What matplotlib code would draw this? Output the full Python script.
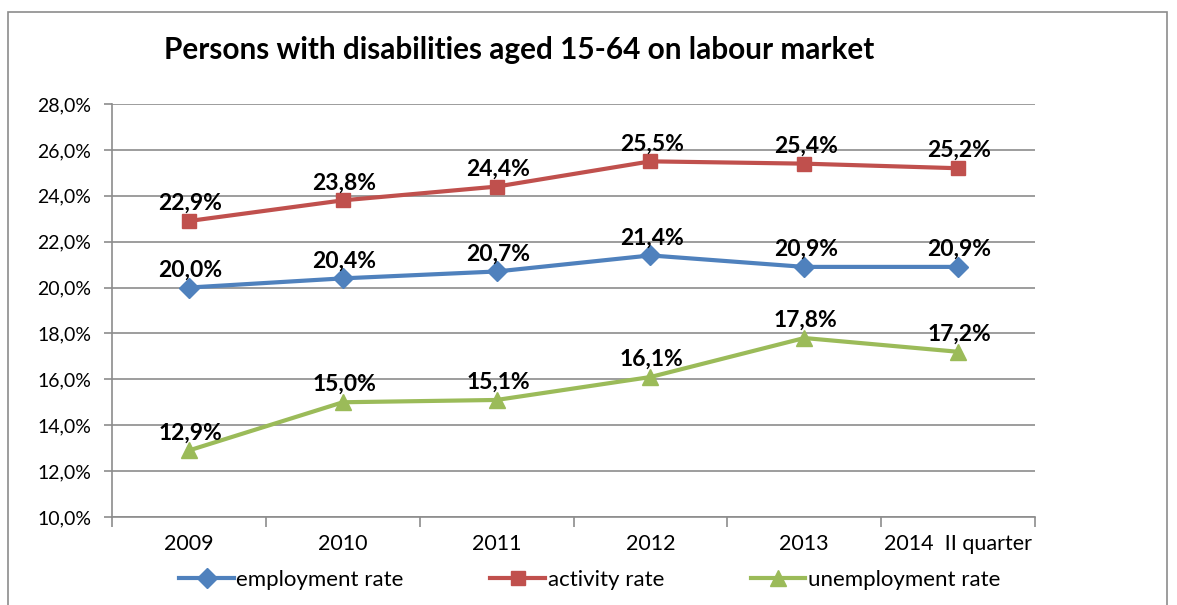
import matplotlib
matplotlib.use('Agg')
import matplotlib.pyplot as plt
from matplotlib.patches import Rectangle
from matplotlib.ticker import FuncFormatter
import numpy as np

matplotlib.rcParams['font.family'] = ['Lato', 'DejaVu Sans']

# ── data ──────────────────────────────────────────────────────────────────────
years = ['2009', '2010', '2011', '2012', '2013', '2014  II quarter']
employment = [20.0, 20.4, 20.7, 21.4, 20.9, 20.9]
activity = [22.9, 23.8, 24.4, 25.5, 25.4, 25.2]
unemployment = [12.9, 15.0, 15.1, 16.1, 17.8, 17.2]

series = [
    ('employment rate', employment, '#4F81BD', 'D', 10),
    ('activity rate', activity, '#C0504D', 's', 10),
    ('unemployment rate', unemployment, '#9BBB59', '^', 12),
]

fig = plt.figure(figsize=(11.77, 6.05), dpi=100)
ax = fig.add_axes([0.0952, 0.1455, 0.7842, 0.6826])

x = np.arange(len(years))
for name, vals, col, mk, ms in series:
    ax.plot(x, vals, color=col, linewidth=3, marker=mk, markersize=ms,
            markeredgecolor=col, label=name, zorder=3)
    for xi, v in zip(x, vals):
        ax.annotate(f'{v:.1f}%'.replace('.', ','), (xi, v), xytext=(1, 8),
                    textcoords='offset points', ha='center', va='baseline',
                    fontsize=16.5, fontweight='bold', color='black', zorder=4)

ax.set_xlim(-0.5, len(years) - 0.5)
ax.set_ylim(10, 28)
ax.set_yticks(np.arange(10, 28.1, 2))
ax.yaxis.set_major_formatter(FuncFormatter(lambda v, p: f'{v:.1f}%'.replace('.', ',')))
ax.grid(axis='y', color='#8c8c8c', linewidth=1.2)
ax.set_axisbelow(True)

ax.set_xticks(x)
ax.set_xticklabels(years)
ax.set_xticks(np.arange(-0.5, len(years)), minor=True)
ax.tick_params(axis='x', which='major', length=0, pad=12, labelsize=15.5)
ax.tick_params(axis='x', which='minor', length=7, color='#8c8c8c', width=1.2)
ax.tick_params(axis='y', length=6, color='#8c8c8c', width=1.2, labelsize=14, pad=9)

for s in ['top', 'right']:
    ax.spines[s].set_visible(False)
for s in ['left', 'bottom']:
    ax.spines[s].set_color('#8c8c8c')
    ax.spines[s].set_linewidth(1.2)

fig.text(0.441, 0.918, 'Persons with disabilities aged 15-64 on labour market',
         ha='center', va='center', fontsize=21.4, fontweight='bold')

fig.legend(loc='center', bbox_to_anchor=(0.501, 0.042), ncol=3, frameon=False,
           fontsize=16, handlelength=2.45, handletextpad=0.12, columnspacing=3.9)

# outer chart frame
fig.patches.append(Rectangle((8 / 1177, -0.05), 1159 / 1177, 1.05 - 12 / 605,
                             transform=fig.transFigure, fill=False,
                             edgecolor='#8c8c8c', linewidth=1.2))

fig.savefig('out.png', dpi=100)
